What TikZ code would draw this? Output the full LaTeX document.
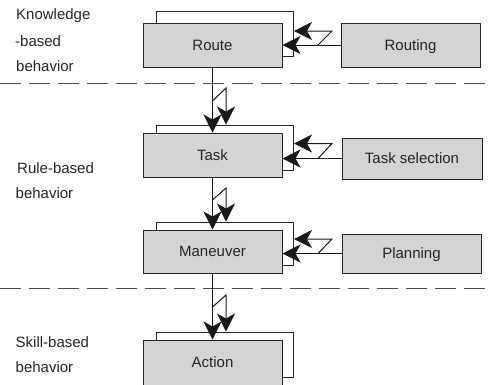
\documentclass[tikz,border=0pt]{standalone}
\usepackage{fontspec}
\setmainfont{Liberation Sans}
\usetikzlibrary{arrows.meta}
\begin{document}
\begin{tikzpicture}[x=1pt,y=-1pt,
  txt/.style={font=\fontsize{15}{17}\selectfont, text=black!85},
  frontbox/.style={txt, draw=black!85, line width=1pt, fill=black!17, minimum width=139pt, minimum height=44pt, inner sep=0pt, text height=10.7pt, text depth=0pt},
  backbox/.style={draw=black!85, line width=1pt, fill=white, minimum width=137pt, minimum height=45pt, inner sep=0pt},
  conn/.style={draw=black!90, line width=1pt},
  arr/.style={conn, -{Stealth[length=18pt,width=18pt,inset=5pt]}},
  lbl/.style={txt, anchor=base west, inner sep=0pt},
  sepline/.style={draw=black!70, line width=1pt, dash pattern=on 21pt off 8pt}]
\useasboundingbox (0,0) rectangle (490,384);
\clip (0,0) rectangle (490,384);

% separators
\coordinate (d1a) at (0,83); \coordinate (d1b) at (490,83);
\coordinate (d2a) at (0,288); \coordinate (d2b) at (490,288);
\draw[sepline] (d1a) -- (d1b);
\draw[sepline] (d2a) -- (d2b);

% left labels
\node[lbl] (k1) at (16,19.5) {Knowledge};
\node[lbl] (k2) at (15,46) {-based};
\node[lbl] (k3) at (16,71) {behavior};
\node[lbl] (rl1) at (17,173) {Rule-based};
\node[lbl] (rl2) at (15.5,198) {behavior};
\node[lbl] (sl1) at (15.5,347) {Skill-based};
\node[lbl] (sl2) at (15.5,372) {behavior};

% stacked boxes
\node[backbox] (routeB) at (225,33.5) {};
\node[frontbox] (route) at (212.5,45) {Route};
\node[backbox] (taskB) at (225,147.5) {};
\node[frontbox] (task) at (212.5,155) {Task};
\node[backbox, minimum height=43pt] (manB) at (225,243.5) {};
\node[frontbox, minimum height=43pt] (man) at (212.5,251.5) {Maneuver};
\node[backbox] (actB) at (225,354.5) {};
\node[frontbox, minimum height=45pt] (act) at (212.5,362.5) {Action};

% right boxes
\node[frontbox] (routing) at (410.5,45) {Routing};
\node[frontbox, minimum width=140pt, minimum height=41pt] (tsel) at (412,158.5) {Task selection};
\node[frontbox, minimum height=39pt] (plan) at (411.5,253.5) {Planning};

% right-to-left connectors
\draw[arr] (routing.west) -- (routing.west -| route.east);
\coordinate (ra) at (318,45); \coordinate (rb) at (332,31);
\draw[arr] (ra) -- (rb) -- (rb -| routeB.east);

\draw[arr] (tsel.west) -- (tsel.west -| task.east);
\coordinate (ta) at (318,158.5); \coordinate (tb) at (332,143.5);
\draw[arr] (ta) -- (tb) -- (tb -| taskB.east);

\draw[arr] (plan.west) -- (plan.west -| man.east);
\coordinate (pa) at (318,253.5); \coordinate (pb) at (332,239);
\draw[arr] (pa) -- (pb) -- (pb -| manB.east);

% downward connectors
\draw[arr] (route.south) -- (task.north);
\coordinate (v1a) at (212.5,101); \coordinate (v1b) at (226,88);
\draw[arr] (v1a) -- (v1b) -- (v1b |- taskB.north);

\draw[arr] (task.south) -- (man.north);
\coordinate (v2a) at (212.5,200); \coordinate (v2b) at (226,188);
\draw[arr] (v2a) -- (v2b) -- (v2b |- manB.north);

\draw[arr] (man.south) -- (act.north);
\coordinate (v3a) at (212.5,307); \coordinate (v3b) at (226,295);
\draw[arr] (v3a) -- (v3b) -- (v3b |- actB.north);
\end{tikzpicture}
\end{document}
